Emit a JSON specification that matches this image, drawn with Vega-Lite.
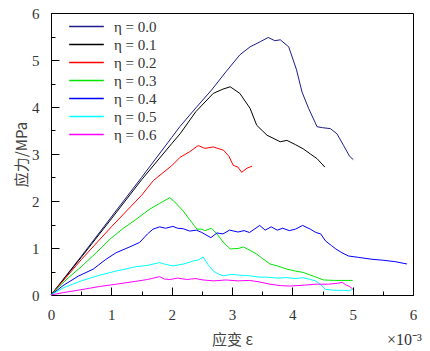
{
"$schema": "https://vega.github.io/schema/vega-lite/v6.json",
"width": 362, "height": 282,
"autosize": "none",
"padding": {"left": 51, "top": 13, "right": 17, "bottom": 56},
"background": "white",
"config": {"view": {"stroke": "#000", "strokeWidth": 1}, "font": "Liberation Serif"},
"title": {"text": "×10⁻³", "orient": "bottom", "anchor": "end", "fontSize": 16, "fontWeight": "normal", "color": "#333", "font": "Liberation Serif", "offset": -15, "dx": 5},
"data": {"values": [
{"eta":"η = 0.0","strain":0,"stress":0},{"eta":"η = 0.0","strain":0.5,"stress":0.82},{"eta":"η = 0.0","strain":1,"stress":1.66},{"eta":"η = 0.0","strain":1.5,"stress":2.5},{"eta":"η = 0.0","strain":2,"stress":3.35},{"eta":"η = 0.0","strain":2.14,"stress":3.59},{"eta":"η = 0.0","strain":2.4,"stress":3.98},{"eta":"η = 0.0","strain":2.66,"stress":4.36},{"eta":"η = 0.0","strain":2.9,"stress":4.75},{"eta":"η = 0.0","strain":3.13,"stress":5.11},{"eta":"η = 0.0","strain":3.3,"stress":5.28},{"eta":"η = 0.0","strain":3.47,"stress":5.39},{"eta":"η = 0.0","strain":3.6,"stress":5.48},{"eta":"η = 0.0","strain":3.71,"stress":5.41},{"eta":"η = 0.0","strain":3.8,"stress":5.43},{"eta":"η = 0.0","strain":3.94,"stress":5.28},{"eta":"η = 0.0","strain":4.07,"stress":4.79},{"eta":"η = 0.0","strain":4.16,"stress":4.32},{"eta":"η = 0.0","strain":4.27,"stress":3.97},{"eta":"η = 0.0","strain":4.41,"stress":3.58},{"eta":"η = 0.0","strain":4.5,"stress":3.56},{"eta":"η = 0.0","strain":4.63,"stress":3.54},{"eta":"η = 0.0","strain":4.74,"stress":3.43},{"eta":"η = 0.0","strain":4.85,"stress":3.18},{"eta":"η = 0.0","strain":4.95,"stress":2.95},{"eta":"η = 0.0","strain":5.01,"stress":2.88},
{"eta":"η = 0.1","strain":0,"stress":0},{"eta":"η = 0.1","strain":0.5,"stress":0.8},{"eta":"η = 0.1","strain":1,"stress":1.62},{"eta":"η = 0.1","strain":1.5,"stress":2.45},{"eta":"η = 0.1","strain":2,"stress":3.22},{"eta":"η = 0.1","strain":2.14,"stress":3.43},{"eta":"η = 0.1","strain":2.4,"stress":3.9},{"eta":"η = 0.1","strain":2.69,"stress":4.29},{"eta":"η = 0.1","strain":2.85,"stress":4.38},{"eta":"η = 0.1","strain":2.97,"stress":4.43},{"eta":"η = 0.1","strain":3.05,"stress":4.36},{"eta":"η = 0.1","strain":3.13,"stress":4.29},{"eta":"η = 0.1","strain":3.3,"stress":3.97},{"eta":"η = 0.1","strain":3.41,"stress":3.61},{"eta":"η = 0.1","strain":3.5,"stress":3.5},{"eta":"η = 0.1","strain":3.58,"stress":3.4},{"eta":"η = 0.1","strain":3.8,"stress":3.26},{"eta":"η = 0.1","strain":3.91,"stress":3.29},{"eta":"η = 0.1","strain":4.05,"stress":3.2},{"eta":"η = 0.1","strain":4.18,"stress":3.11},{"eta":"η = 0.1","strain":4.3,"stress":3.0},{"eta":"η = 0.1","strain":4.41,"stress":2.9},{"eta":"η = 0.1","strain":4.54,"stress":2.72},
{"eta":"η = 0.2","strain":0,"stress":0},{"eta":"η = 0.2","strain":0.5,"stress":0.75},{"eta":"η = 0.2","strain":1,"stress":1.45},{"eta":"η = 0.2","strain":1.5,"stress":2.12},{"eta":"η = 0.2","strain":1.7,"stress":2.44},{"eta":"η = 0.2","strain":2,"stress":2.75},{"eta":"η = 0.2","strain":2.14,"stress":2.93},{"eta":"η = 0.2","strain":2.3,"stress":3.05},{"eta":"η = 0.2","strain":2.44,"stress":3.18},{"eta":"η = 0.2","strain":2.55,"stress":3.12},{"eta":"η = 0.2","strain":2.69,"stress":3.15},{"eta":"η = 0.2","strain":2.86,"stress":3.08},{"eta":"η = 0.2","strain":2.95,"stress":2.95},{"eta":"η = 0.2","strain":3.02,"stress":2.76},{"eta":"η = 0.2","strain":3.1,"stress":2.72},{"eta":"η = 0.2","strain":3.16,"stress":2.61},{"eta":"η = 0.2","strain":3.25,"stress":2.7},{"eta":"η = 0.2","strain":3.33,"stress":2.74},
{"eta":"η = 0.3","strain":0,"stress":0},{"eta":"η = 0.3","strain":0.15,"stress":0.2},{"eta":"η = 0.3","strain":0.3,"stress":0.38},{"eta":"η = 0.3","strain":0.5,"stress":0.6},{"eta":"η = 0.3","strain":0.75,"stress":0.9},{"eta":"η = 0.3","strain":0.98,"stress":1.19},{"eta":"η = 0.3","strain":1.2,"stress":1.42},{"eta":"η = 0.3","strain":1.4,"stress":1.6},{"eta":"η = 0.3","strain":1.64,"stress":1.83},{"eta":"η = 0.3","strain":1.8,"stress":1.95},{"eta":"η = 0.3","strain":1.97,"stress":2.07},{"eta":"η = 0.3","strain":2.05,"stress":1.98},{"eta":"η = 0.3","strain":2.19,"stress":1.79},{"eta":"η = 0.3","strain":2.3,"stress":1.6},{"eta":"η = 0.3","strain":2.42,"stress":1.4},{"eta":"η = 0.3","strain":2.5,"stress":1.4},{"eta":"η = 0.3","strain":2.55,"stress":1.37},{"eta":"η = 0.3","strain":2.66,"stress":1.42},{"eta":"η = 0.3","strain":2.75,"stress":1.3},{"eta":"η = 0.3","strain":2.85,"stress":1.13},{"eta":"η = 0.3","strain":2.97,"stress":0.98},{"eta":"η = 0.3","strain":3.1,"stress":0.99},{"eta":"η = 0.3","strain":3.19,"stress":1.02},{"eta":"η = 0.3","strain":3.3,"stress":0.95},{"eta":"η = 0.3","strain":3.41,"stress":0.87},{"eta":"η = 0.3","strain":3.5,"stress":0.78},{"eta":"η = 0.3","strain":3.63,"stress":0.66},{"eta":"η = 0.3","strain":3.75,"stress":0.62},{"eta":"η = 0.3","strain":3.91,"stress":0.55},{"eta":"η = 0.3","strain":4.05,"stress":0.51},{"eta":"η = 0.3","strain":4.18,"stress":0.48},{"eta":"η = 0.3","strain":4.35,"stress":0.4},{"eta":"η = 0.3","strain":4.52,"stress":0.32},{"eta":"η = 0.3","strain":4.7,"stress":0.31},{"eta":"η = 0.3","strain":5.0,"stress":0.31},
{"eta":"η = 0.4","strain":0,"stress":0},{"eta":"η = 0.4","strain":0.2,"stress":0.2},{"eta":"η = 0.4","strain":0.45,"stress":0.4},{"eta":"η = 0.4","strain":0.7,"stress":0.55},{"eta":"η = 0.4","strain":0.9,"stress":0.75},{"eta":"η = 0.4","strain":1.08,"stress":0.9},{"eta":"η = 0.4","strain":1.3,"stress":1.02},{"eta":"η = 0.4","strain":1.47,"stress":1.12},{"eta":"η = 0.4","strain":1.6,"stress":1.3},{"eta":"η = 0.4","strain":1.69,"stress":1.4},{"eta":"η = 0.4","strain":1.8,"stress":1.45},{"eta":"η = 0.4","strain":1.9,"stress":1.42},{"eta":"η = 0.4","strain":2.02,"stress":1.46},{"eta":"η = 0.4","strain":2.1,"stress":1.42},{"eta":"η = 0.4","strain":2.19,"stress":1.41},{"eta":"η = 0.4","strain":2.3,"stress":1.36},{"eta":"η = 0.4","strain":2.41,"stress":1.38},{"eta":"η = 0.4","strain":2.5,"stress":1.33},{"eta":"η = 0.4","strain":2.65,"stress":1.22},{"eta":"η = 0.4","strain":2.75,"stress":1.32},{"eta":"η = 0.4","strain":2.85,"stress":1.3},{"eta":"η = 0.4","strain":2.96,"stress":1.38},{"eta":"η = 0.4","strain":3.1,"stress":1.34},{"eta":"η = 0.4","strain":3.2,"stress":1.37},{"eta":"η = 0.4","strain":3.29,"stress":1.33},{"eta":"η = 0.4","strain":3.46,"stress":1.48},{"eta":"η = 0.4","strain":3.55,"stress":1.38},{"eta":"η = 0.4","strain":3.65,"stress":1.45},{"eta":"η = 0.4","strain":3.75,"stress":1.38},{"eta":"η = 0.4","strain":3.84,"stress":1.42},{"eta":"η = 0.4","strain":3.95,"stress":1.37},{"eta":"η = 0.4","strain":4.05,"stress":1.4},{"eta":"η = 0.4","strain":4.17,"stress":1.48},{"eta":"η = 0.4","strain":4.3,"stress":1.4},{"eta":"η = 0.4","strain":4.39,"stress":1.33},{"eta":"η = 0.4","strain":4.47,"stress":1.3},{"eta":"η = 0.4","strain":4.55,"stress":1.15},{"eta":"η = 0.4","strain":4.65,"stress":1.05},{"eta":"η = 0.4","strain":4.72,"stress":0.98},{"eta":"η = 0.4","strain":4.82,"stress":0.9},{"eta":"η = 0.4","strain":4.93,"stress":0.83},{"eta":"η = 0.4","strain":5.1,"stress":0.8},{"eta":"η = 0.4","strain":5.32,"stress":0.76},{"eta":"η = 0.4","strain":5.5,"stress":0.74},{"eta":"η = 0.4","strain":5.7,"stress":0.71},{"eta":"η = 0.4","strain":5.9,"stress":0.66},
{"eta":"η = 0.5","strain":0,"stress":0},{"eta":"η = 0.5","strain":0.2,"stress":0.15},{"eta":"η = 0.5","strain":0.5,"stress":0.3},{"eta":"η = 0.5","strain":0.8,"stress":0.42},{"eta":"η = 0.5","strain":1.08,"stress":0.51},{"eta":"η = 0.5","strain":1.4,"stress":0.6},{"eta":"η = 0.5","strain":1.6,"stress":0.63},{"eta":"η = 0.5","strain":1.8,"stress":0.69},{"eta":"η = 0.5","strain":1.9,"stress":0.65},{"eta":"η = 0.5","strain":2.02,"stress":0.62},{"eta":"η = 0.5","strain":2.2,"stress":0.66},{"eta":"η = 0.5","strain":2.35,"stress":0.72},{"eta":"η = 0.5","strain":2.45,"stress":0.75},{"eta":"η = 0.5","strain":2.52,"stress":0.81},{"eta":"η = 0.5","strain":2.6,"stress":0.65},{"eta":"η = 0.5","strain":2.69,"stress":0.51},{"eta":"η = 0.5","strain":2.78,"stress":0.44},{"eta":"η = 0.5","strain":2.86,"stress":0.41},{"eta":"η = 0.5","strain":3.0,"stress":0.44},{"eta":"η = 0.5","strain":3.15,"stress":0.42},{"eta":"η = 0.5","strain":3.29,"stress":0.41},{"eta":"η = 0.5","strain":3.45,"stress":0.38},{"eta":"η = 0.5","strain":3.57,"stress":0.38},{"eta":"η = 0.5","strain":3.75,"stress":0.36},{"eta":"η = 0.5","strain":3.9,"stress":0.37},{"eta":"η = 0.5","strain":4.05,"stress":0.35},{"eta":"η = 0.5","strain":4.17,"stress":0.37},{"eta":"η = 0.5","strain":4.3,"stress":0.33},{"eta":"η = 0.5","strain":4.39,"stress":0.3},{"eta":"η = 0.5","strain":4.47,"stress":0.22},{"eta":"η = 0.5","strain":4.55,"stress":0.12},{"eta":"η = 0.5","strain":4.7,"stress":0.1},{"eta":"η = 0.5","strain":4.85,"stress":0.1},{"eta":"η = 0.5","strain":4.93,"stress":0.09},{"eta":"η = 0.5","strain":5.0,"stress":0.12},
{"eta":"η = 0.6","strain":0,"stress":0},{"eta":"η = 0.6","strain":0.2,"stress":0.05},{"eta":"η = 0.6","strain":0.53,"stress":0.12},{"eta":"η = 0.6","strain":0.8,"stress":0.18},{"eta":"η = 0.6","strain":1.08,"stress":0.23},{"eta":"η = 0.6","strain":1.4,"stress":0.29},{"eta":"η = 0.6","strain":1.6,"stress":0.33},{"eta":"η = 0.6","strain":1.8,"stress":0.39},{"eta":"η = 0.6","strain":1.88,"stress":0.34},{"eta":"η = 0.6","strain":1.97,"stress":0.33},{"eta":"η = 0.6","strain":2.1,"stress":0.36},{"eta":"η = 0.6","strain":2.25,"stress":0.33},{"eta":"η = 0.6","strain":2.4,"stress":0.35},{"eta":"η = 0.6","strain":2.52,"stress":0.32},{"eta":"η = 0.6","strain":2.7,"stress":0.3},{"eta":"η = 0.6","strain":2.9,"stress":0.32},{"eta":"η = 0.6","strain":3.1,"stress":0.3},{"eta":"η = 0.6","strain":3.29,"stress":0.31},{"eta":"η = 0.6","strain":3.45,"stress":0.28},{"eta":"η = 0.6","strain":3.63,"stress":0.23},{"eta":"η = 0.6","strain":3.8,"stress":0.2},{"eta":"η = 0.6","strain":3.96,"stress":0.19},{"eta":"η = 0.6","strain":4.2,"stress":0.21},{"eta":"η = 0.6","strain":4.39,"stress":0.23},{"eta":"η = 0.6","strain":4.6,"stress":0.23},{"eta":"η = 0.6","strain":4.75,"stress":0.25},{"eta":"η = 0.6","strain":4.83,"stress":0.27},{"eta":"η = 0.6","strain":4.88,"stress":0.22},{"eta":"η = 0.6","strain":4.95,"stress":0.18},{"eta":"η = 0.6","strain":5.0,"stress":0.13}
]},
"mark": {"type": "line", "strokeWidth": 1},
"encoding": {
"x": {"field": "strain", "type": "quantitative", "scale": {"domain": [0, 6], "nice": false},
 "axis": {"title": "应变 ε", "titleFont": "Noto Sans CJK SC", "labelFont": "Liberation Serif", "values": [0,0.5,1,1.5,2,2.5,3,3.5,4,4.5,5,5.5,6], "labelExpr": "datum.value % 1 === 0 ? format(datum.value, 'd') : ''", "tickSize": {"condition": {"test": "datum.value % 1 === 0", "value": -8}, "value": -4}, "tickColor": "#000", "domainColor": "#000", "labelFontSize": 15, "labelColor": "#333", "labelPadding": 20, "titleFontSize": 15, "titleFontWeight": "normal", "titleColor": "#444", "titlePadding": 10, "grid": false, "labelFlush": false}},
"y": {"field": "stress", "type": "quantitative", "scale": {"domain": [0, 6], "nice": false},
 "axis": {"title": "应力/MPa", "titleFont": "Noto Sans CJK SC", "labelFont": "Liberation Serif", "values": [0,0.5,1,1.5,2,2.5,3,3.5,4,4.5,5,5.5,6], "labelExpr": "datum.value % 1 === 0 ? format(datum.value, 'd') : ''", "tickSize": {"condition": {"test": "datum.value % 1 === 0", "value": -8}, "value": -4}, "tickColor": "#000", "domainColor": "#000", "labelFontSize": 15, "labelColor": "#333", "labelPadding": 20, "titleFontSize": 15, "titleFontWeight": "normal", "titleColor": "#444", "titlePadding": 2, "grid": false, "labelFlush": false}},
"color": {"field": "eta", "type": "nominal",
 "scale": {"domain": ["η = 0.0","η = 0.1","η = 0.2","η = 0.3","η = 0.4","η = 0.5","η = 0.6"], "range": ["#1c1c8c","#000000","#ff0000","#00e600","#0000ff","#00ffff","#ff00ff"]},
 "legend": {"title": null, "orient": "none", "legendX": 26, "legendY": 4, "padding": 0, "symbolType": "M-2,0L2,0", "symbolSize": 300, "symbolStrokeWidth": 1.5, "labelFont": "Liberation Serif", "labelFontSize": 15, "labelColor": "#333", "rowPadding": 0, "labelOffset": 18}}
}
}
